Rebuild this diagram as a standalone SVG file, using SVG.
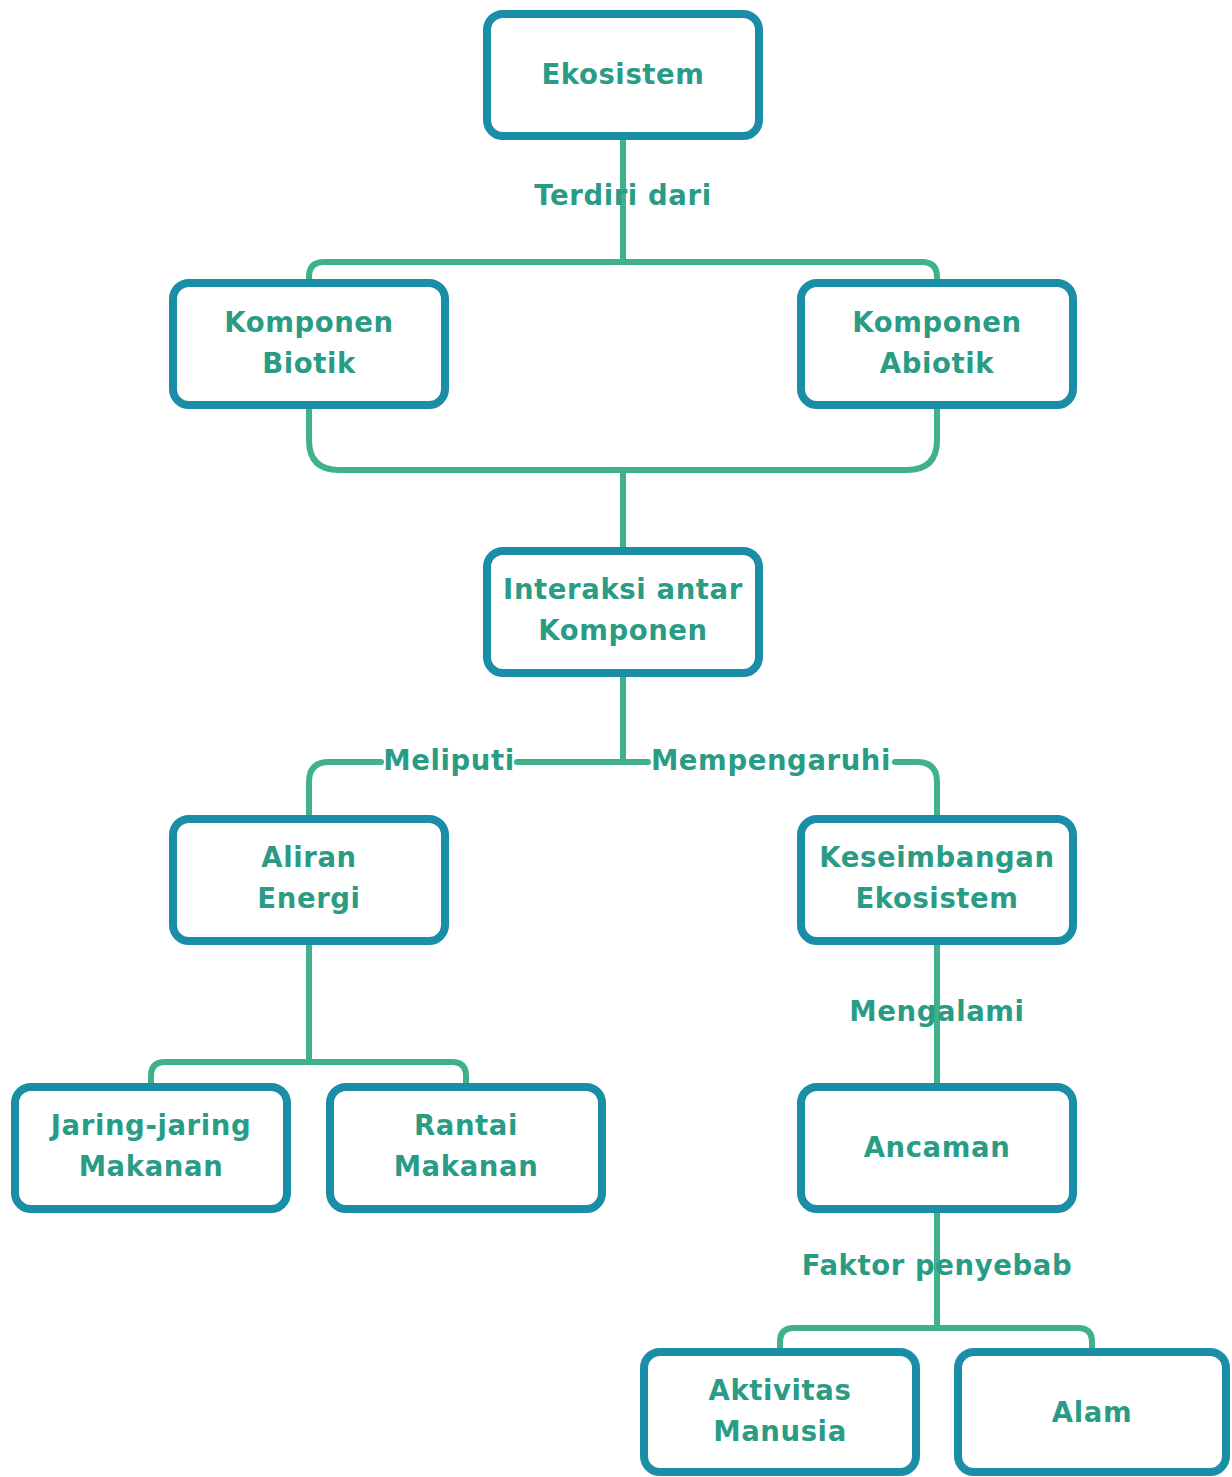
<svg xmlns="http://www.w3.org/2000/svg" width="1232" height="1477" viewBox="0 0 1232 1477">
<style>
.box{fill:#ffffff;stroke:#1a8ea6;stroke-width:8}
.t{font-family:"DejaVu Sans","Open Sans",sans-serif;font-weight:700;font-size:27.5px;fill:#2a9c86;text-anchor:middle;letter-spacing:0.6px}
.c{fill:none;stroke:#3fb28c;stroke-width:6;stroke-linecap:round;stroke-linejoin:round}
</style>
<rect width="1232" height="1477" fill="#ffffff"/>
<g id="connectors">
<path class="c" d="M623 140 V262"/>
<path class="c" d="M309 282 V277 Q309 262 324 262 H922 Q937 262 937 277 V282"/>
<path class="c" d="M309 408 V440 Q309 470 339 470 H907 Q937 470 937 440 V408"/>
<path class="c" d="M623 470 V549"/>
<path class="c" d="M623 675 V762"/>
<path class="c" d="M309 817 V782 Q309 762 329 762 H381"/>
<path class="c" d="M517 762 H648"/>
<path class="c" d="M895 762 H917 Q937 762 937 782 V817"/>
<path class="c" d="M309 943 V1062"/>
<path class="c" d="M151 1085 V1076 Q151 1062 165 1062 H452 Q466 1062 466 1076 V1085"/>
<path class="c" d="M937 943 V1085"/>
<path class="c" d="M937 1211 V1328"/>
<path class="c" d="M780 1350 V1342 Q780 1328 794 1328 H1078 Q1092 1328 1092 1342 V1350"/>
</g>
<g id="label-terdiri"><text class="t" x="623" y="205">Terdiri dari</text></g>
<g id="label-meliputi"><text class="t" x="449" y="770">Meliputi</text></g>
<g id="label-mempengaruhi"><text class="t" x="771" y="770">Mempengaruhi</text></g>
<g id="label-mengalami"><text class="t" x="937" y="1021">Mengalami</text></g>
<g id="label-faktor"><text class="t" x="937" y="1275">Faktor penyebab</text></g>
<g id="n-ekosistem"><rect class="box" x="487" y="14" width="272" height="122" rx="16"/><text class="t" x="623" y="84">Ekosistem</text></g>
<g id="n-biotik"><rect class="box" x="173" y="283" width="272" height="122" rx="16"/><text class="t" x="309" y="332">Komponen</text><text class="t" x="309" y="373">Biotik</text></g>
<g id="n-abiotik"><rect class="box" x="801" y="283" width="272" height="122" rx="16"/><text class="t" x="937" y="332">Komponen</text><text class="t" x="937" y="373">Abiotik</text></g>
<g id="n-interaksi"><rect class="box" x="487" y="551" width="272" height="122" rx="16"/><text class="t" x="623" y="599">Interaksi antar</text><text class="t" x="623" y="640">Komponen</text></g>
<g id="n-aliran"><rect class="box" x="173" y="819" width="272" height="122" rx="16"/><text class="t" x="309" y="867">Aliran</text><text class="t" x="309" y="908">Energi</text></g>
<g id="n-keseimbangan"><rect class="box" x="801" y="819" width="272" height="122" rx="16"/><text class="t" x="937" y="867">Keseimbangan</text><text class="t" x="937" y="908">Ekosistem</text></g>
<g id="n-jaring"><rect class="box" x="15" y="1087" width="272" height="122" rx="16"/><text class="t" x="151" y="1135">Jaring-jaring</text><text class="t" x="151" y="1176">Makanan</text></g>
<g id="n-rantai"><rect class="box" x="330" y="1087" width="272" height="122" rx="16"/><text class="t" x="466" y="1135">Rantai</text><text class="t" x="466" y="1176">Makanan</text></g>
<g id="n-ancaman"><rect class="box" x="801" y="1087" width="272" height="122" rx="16"/><text class="t" x="937" y="1157">Ancaman</text></g>
<g id="n-aktivitas"><rect class="box" x="644" y="1352" width="272" height="120" rx="16"/><text class="t" x="780" y="1400">Aktivitas</text><text class="t" x="780" y="1441">Manusia</text></g>
<g id="n-alam"><rect class="box" x="958" y="1352" width="268" height="120" rx="16"/><text class="t" x="1092" y="1422">Alam</text></g>
</svg>
